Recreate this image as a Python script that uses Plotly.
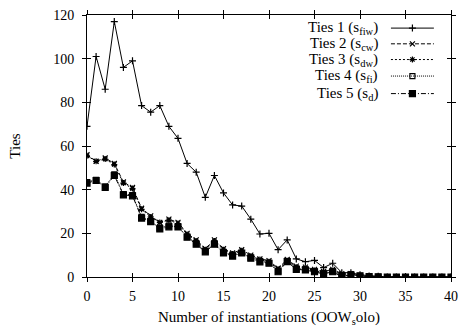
import plotly.graph_objects as go

x = list(range(0, 41))

ties1 = [69, 101, 86, 117, 96, 99, 78.5, 75.5, 78.5, 69, 63.5, 52, 48, 36.5, 46.5, 38.5, 33, 32.5, 26.5, 19.7,
         20, 12.5, 17, 8.3, 7, 7.6, 4.3, 6.3, 2, 2, 1, 0.5, 0.3, 0, 0, 0, 0, 0, 0, 0, 0]
ties2 = [56, 53, 54.5, 52, 43.5, 41, 31.5, 28, 25, 26.5, 25, 20, 17, 13, 17, 13, 11, 12.5, 10, 8.3,
         7.5, 4, 8, 5, 4.5, 3.5, 2.5, 3.5, 1.5, 1.5, 0.5, 0.3, 0.2, 0, 0, 0, 0, 0, 0, 0, 0]
ties3 = [55.5, 53, 54, 51.5, 43, 40.5, 31, 27.5, 25, 26, 24.5, 19.5, 16.5, 12.5, 16.5, 12.5, 10.5, 12, 9.5, 8,
         7, 3.5, 7.5, 4.5, 4, 3, 2, 3, 1, 1, 0.4, 0.2, 0.1, 0, 0, 0, 0, 0, 0, 0, 0]
ties4 = [43.5, 44.5, 41.5, 47, 38, 37.5, 27.5, 25.5, 22.5, 23.5, 23, 18.5, 15.5, 12, 15.5, 11.5, 10, 11, 9, 7.3,
         6.5, 2.8, 7.2, 3.8, 3.5, 2.7, 1.6, 2.6, 0.4, 1.1, 0.5, 0.2, 0.1, 0, 0, 0, 0, 0, 0, 0, 0]
ties5 = [43, 44.2, 41, 46.5, 37.6, 37.2, 27, 25.4, 22, 23, 23, 18.2, 15, 11.5, 15, 11, 9.6, 11, 8.6, 6.9,
         6.3, 2.4, 7, 3.5, 3.2, 2.4, 1.4, 2.4, 0.1, 1, 0.5, 0.2, 0.1, 0, 0, 0, 0, 0, 0, 0, 0]

names = ["Ties 1 (s<sub>fiw</sub>)", "Ties 2 (s<sub>cw</sub>)", "Ties 3 (s<sub>dw</sub>)",
         "Ties 4 (s<sub>fi</sub>)", "Ties 5 (s<sub>d</sub>)"]
series = [ties1, ties2, ties3, ties4, ties5]
dashes = ["solid", "4px,2px", "2px,2px", "1px,1px", "5px,2px,1px,2px"]
symbols = ["cross-thin-open", "x-thin-open", "asterisk-open", "square-open", "square"]
msizes = [5, 5, 5, 5, 6]

FONT = "Liberation Serif, Times New Roman, serif"

fig = go.Figure()
for s, n, d, sym, ms in zip(series, names, dashes, symbols, msizes):
    fig.add_trace(go.Scatter(
        x=x, y=s, mode="lines+markers", name=n, showlegend=False,
        line=dict(color="black", width=1, dash=d),
        marker=dict(symbol=sym, size=ms, color="black", line=dict(color="black", width=1.2)),
    ))

# manual legend (text right-aligned, sample on right), on an overlay axis in [0,1]
leg_y = [0.95, 0.89, 0.83, 0.767, 0.70]
for n, d, sym, ms, ly in zip(names, dashes, symbols, msizes, leg_y):
    fig.add_trace(go.Scatter(
        x=[0.835, 0.953], y=[ly, ly], xaxis="x2", yaxis="y2", mode="lines", showlegend=False,
        line=dict(color="black", width=1, dash=d), hoverinfo="skip"))
    fig.add_trace(go.Scatter(
        x=[0.894], y=[ly], xaxis="x2", yaxis="y2", mode="markers", showlegend=False,
        marker=dict(symbol=sym, size=ms, color="black", line=dict(color="black", width=1.2)),
        hoverinfo="skip"))
    fig.add_annotation(x=0.805, y=ly, xref="x2", yref="y2", text=n, showarrow=False,
                       xanchor="right", yanchor="middle",
                       font=dict(family=FONT, size=15, color="black"))

# overlay axes giving the inward half of the crossing ticks
fig.add_trace(go.Scatter(x=[0], y=[0], xaxis="x3", yaxis="y3", mode="markers",
                         marker=dict(size=0, opacity=0), showlegend=False, hoverinfo="skip"))

axis_common = dict(showgrid=False, zeroline=False, showline=True, linecolor="black", linewidth=1,
                   ticklen=4, tickcolor="black", tickwidth=1, automargin=False)

fig.update_layout(
    width=459, height=327,
    margin=dict(l=87, r=8, t=15, b=50),
    paper_bgcolor="white", plot_bgcolor="white",
    font=dict(family=FONT, size=14, color="black"),
    xaxis=dict(range=[0, 40], tickmode="linear", tick0=0, dtick=5,
               mirror="ticks", ticks="outside", ticklabelstandoff=2,
               tickfont=dict(family=FONT, size=14),
               title=dict(text="Number of instantiations (OOW<sub>s</sub>olo)",
                          font=dict(family=FONT, size=15), standoff=9),
               **axis_common),
    yaxis=dict(range=[0, 120], tickmode="linear", tick0=0, dtick=20,
               mirror="ticks", ticks="outside", ticklabelstandoff=5,
               tickfont=dict(family=FONT, size=14),
               title=dict(text="Ties", font=dict(family=FONT, size=15), standoff=28),
               **axis_common),
    xaxis2=dict(range=[0, 1], overlaying="x", visible=False, fixedrange=True),
    yaxis2=dict(range=[0, 1], overlaying="y", visible=False, fixedrange=True),
    xaxis3=dict(range=[0, 40], overlaying="x", tickmode="linear", tick0=0, dtick=5,
                mirror="ticks", ticks="inside", showticklabels=False, **axis_common),
    yaxis3=dict(range=[0, 120], overlaying="y", tickmode="linear", tick0=0, dtick=20,
                mirror="ticks", ticks="inside", showticklabels=False, **axis_common),
)

fig.write_html("out.html")
